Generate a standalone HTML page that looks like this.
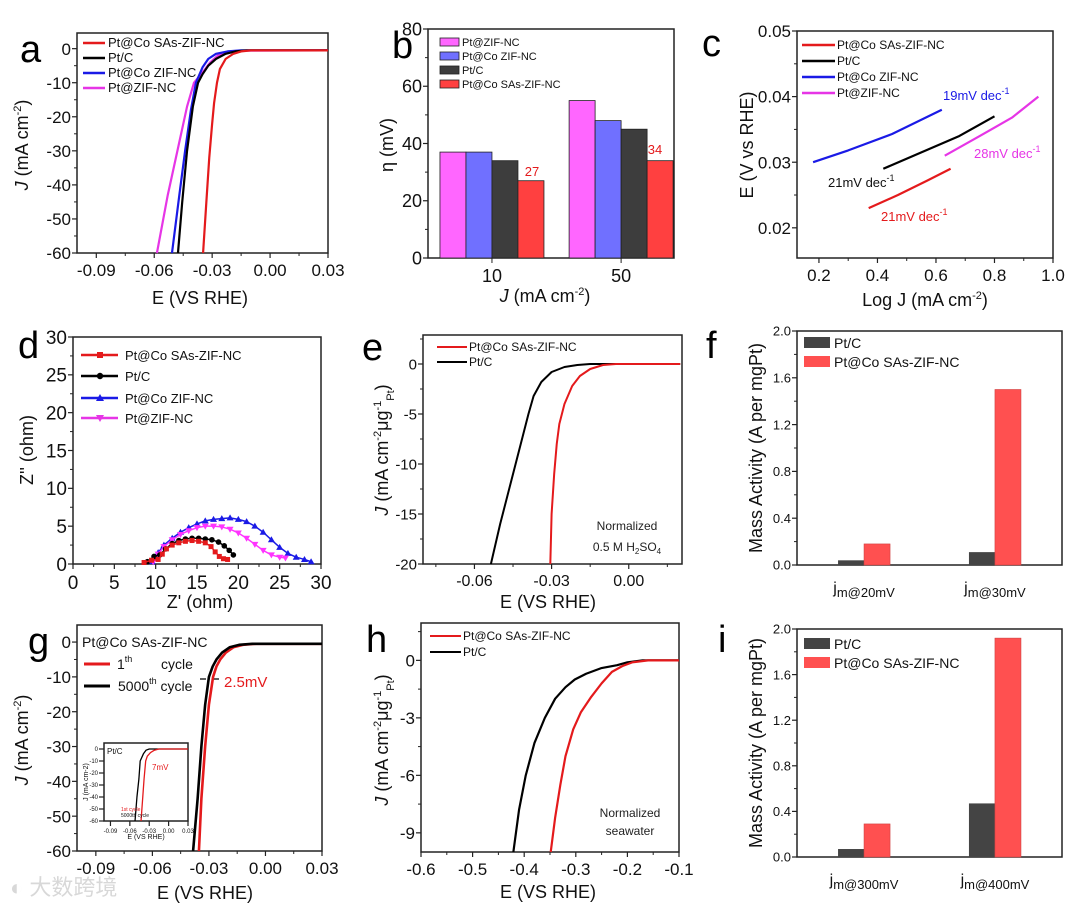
<!DOCTYPE html>
<html><head><meta charset="utf-8">
<style>
html,body{margin:0;padding:0;background:#fff;}
svg{display:block;font-family:"Liberation Sans","Noto Sans CJK SC",sans-serif;}
.lg{font-size:13px;fill:#111}
.tl{font-size:18px;fill:#111}
.pl{font-size:38px;fill:#000}
</style></head>
<body>
<svg id="fig" width="1080" height="910" viewBox="0 0 1080 910">
<rect width="1080" height="910" fill="#fff"/>
<text class="pl" x="20" y="62">a</text>
<text class="pl" x="392" y="58">b</text>
<text class="pl" x="702" y="56">c</text>
<text class="pl" x="18" y="358">d</text>
<text class="pl" x="362" y="360">e</text>
<text class="pl" x="706" y="358">f</text>
<text class="pl" x="28" y="654">g</text>
<text class="pl" x="366" y="652">h</text>
<text class="pl" x="718" y="652">i</text>

<text class="tl" x="200" y="304" text-anchor="middle">E (VS RHE)</text>
<text class="tl" transform="translate(28,145) rotate(-90)" text-anchor="middle"><tspan font-style="italic">J</tspan> (mA cm<tspan font-size="11" dy="-7">-2</tspan><tspan dy="7">)</tspan></text>
<text class="tl" x="545" y="302" text-anchor="middle"><tspan font-style="italic">J</tspan> (mA cm<tspan font-size="11" dy="-7">-2</tspan><tspan dy="7">)</tspan></text>
<text class="tl" transform="translate(393,145) rotate(-90)" text-anchor="middle">η (mV)</text>
<text class="tl" x="925" y="306" text-anchor="middle">Log J (mA cm<tspan font-size="11" dy="-7">-2</tspan><tspan dy="7">)</tspan></text>
<text class="tl" transform="translate(753,145) rotate(-90)" text-anchor="middle">E (V vs RHE)</text>
<text class="tl" x="200" y="608" text-anchor="middle">Z' (ohm)</text>
<text class="tl" transform="translate(33,450) rotate(-90)" text-anchor="middle">Z'' (ohm)</text>
<text class="tl" x="548" y="608" text-anchor="middle">E (VS RHE)</text>
<text class="tl" transform="translate(388,450) rotate(-90)" text-anchor="middle"><tspan font-style="italic">J</tspan> (mA cm<tspan font-size="11" dy="-7">-2</tspan><tspan dy="7">μg</tspan><tspan font-size="11" dy="-7">-1</tspan><tspan font-size="11" dy="13">Pt</tspan><tspan dy="-6">)</tspan></text>
<text class="tl" transform="translate(762,448) rotate(-90)" text-anchor="middle">Mass Activity (A per mgPt)</text>
<text class="tl" x="205" y="899" text-anchor="middle">E (VS RHE)</text>
<text class="tl" transform="translate(28,740) rotate(-90)" text-anchor="middle"><tspan font-style="italic">J</tspan> (mA cm<tspan font-size="11" dy="-7">-2</tspan><tspan dy="7">)</tspan></text>
<text class="tl" x="548" y="898" text-anchor="middle">E (VS RHE)</text>
<text class="tl" transform="translate(388,740) rotate(-90)" text-anchor="middle"><tspan font-style="italic">J</tspan> (mA cm<tspan font-size="11" dy="-7">-2</tspan><tspan dy="7">μg</tspan><tspan font-size="11" dy="-7">-1</tspan><tspan font-size="11" dy="13">Pt</tspan><tspan dy="-6">)</tspan></text>
<text class="tl" transform="translate(762,743) rotate(-90)" text-anchor="middle">Mass Activity (A per mgPt)</text>

<g>
<line x1="83" y1="43" x2="105" y2="43" stroke="#e41a1c" stroke-width="2.5"/><text class="lg" x="108" y="47">Pt@Co SAs-ZIF-NC</text>
<line x1="83" y1="58" x2="105" y2="58" stroke="#000" stroke-width="2.5"/><text class="lg" x="108" y="62">Pt/C</text>
<line x1="83" y1="73" x2="105" y2="73" stroke="#1a1ae6" stroke-width="2.5"/><text class="lg" x="108" y="77">Pt@Co ZIF-NC</text>
<line x1="83" y1="88" x2="105" y2="88" stroke="#e635e6" stroke-width="2.5"/><text class="lg" x="108" y="92">Pt@ZIF-NC</text>
</g>
<g font-size="11">
<rect x="440" y="38" width="19" height="8" fill="#ff66ff" stroke="#222" stroke-width="0.8"/><text x="462" y="46" fill="#111">Pt@ZIF-NC</text>
<rect x="440" y="52" width="19" height="8" fill="#7070ff" stroke="#222" stroke-width="0.8"/><text x="462" y="60" fill="#111">Pt@Co ZIF-NC</text>
<rect x="440" y="66" width="19" height="8" fill="#3d3d3d" stroke="#222" stroke-width="0.8"/><text x="462" y="74" fill="#111">Pt/C</text>
<rect x="440" y="80" width="19" height="8" fill="#ff4040" stroke="#222" stroke-width="0.8"/><text x="462" y="88" fill="#111">Pt@Co SAs-ZIF-NC</text>
</g>
<text x="532" y="176" font-size="13" fill="#e41a1c" text-anchor="middle">27</text>
<text x="655" y="154" font-size="13" fill="#e41a1c" text-anchor="middle">34</text>
<g font-size="12">
<line x1="802" y1="45" x2="835" y2="45" stroke="#e41a1c" stroke-width="2.5"/><text x="837" y="49" fill="#111">Pt@Co SAs-ZIF-NC</text>
<line x1="802" y1="61" x2="835" y2="61" stroke="#000" stroke-width="2.5"/><text x="837" y="65" fill="#111">Pt/C</text>
<line x1="802" y1="77" x2="835" y2="77" stroke="#1a1ae6" stroke-width="2.5"/><text x="837" y="81" fill="#111">Pt@Co ZIF-NC</text>
<line x1="802" y1="93" x2="835" y2="93" stroke="#e635e6" stroke-width="2.5"/><text x="837" y="97" fill="#111">Pt@ZIF-NC</text>
</g>
<g font-size="13">
<text x="943" y="100" fill="#1a1ae6">19mV dec<tspan font-size="9" dy="-6">-1</tspan></text>
<text x="828" y="187" fill="#111">21mV dec<tspan font-size="9" dy="-6">-1</tspan></text>
<text x="974" y="158" fill="#e635e6">28mV dec<tspan font-size="9" dy="-6">-1</tspan></text>
<text x="881" y="221" fill="#e41a1c">21mV dec<tspan font-size="9" dy="-6">-1</tspan></text>
</g>
<g>
<line x1="81" y1="355" x2="118" y2="355" stroke="#e41a1c" stroke-width="2.5"/><rect x="97" y="352" width="6" height="6" fill="#e41a1c"/><text class="lg" x="125" y="360">Pt@Co SAs-ZIF-NC</text>
<line x1="81" y1="376" x2="118" y2="376" stroke="#000" stroke-width="2.5"/><circle cx="100" cy="376" r="3.2" fill="#000"/><text class="lg" x="125" y="381">Pt/C</text>
<line x1="81" y1="398" x2="118" y2="398" stroke="#1a1ae6" stroke-width="2.5"/><path d="M100 394 L104 401 L96 401Z" fill="#1a1ae6"/><text class="lg" x="125" y="403">Pt@Co ZIF-NC</text>
<line x1="81" y1="418" x2="118" y2="418" stroke="#e635e6" stroke-width="2.5"/><path d="M96 415 L104 415 L100 422Z" fill="#e635e6"/><text class="lg" x="125" y="423">Pt@ZIF-NC</text>
</g>
<g font-size="12">
<line x1="437" y1="347" x2="467" y2="347" stroke="#e41a1c" stroke-width="2"/><text x="469" y="351" fill="#111">Pt@Co SAs-ZIF-NC</text>
<line x1="437" y1="362" x2="467" y2="362" stroke="#000" stroke-width="2"/><text x="469" y="366" fill="#111">Pt/C</text>
</g>
<text x="627" y="530" font-size="12" fill="#222" text-anchor="middle">Normalized</text>
<text x="627" y="551" font-size="12" fill="#222" text-anchor="middle">0.5 M H<tspan font-size="8" dy="3">2</tspan><tspan dy="-3">SO</tspan><tspan font-size="8" dy="3">4</tspan></text>
<g font-size="14">
<rect x="804" y="337" width="26" height="11" fill="#444"/><text x="834" y="348" fill="#111">Pt/C</text>
<rect x="804" y="356" width="26" height="11" fill="#ff5050"/><text x="834" y="367" fill="#111">Pt@Co SAs-ZIF-NC</text>
</g>
<g>
<text x="82" y="647" font-size="14" fill="#111">Pt@Co SAs-ZIF-NC</text>
<line x1="84" y1="664" x2="110" y2="664" stroke="#e41a1c" stroke-width="3"/>
<text x="117" y="669" font-size="14" fill="#111">1<tspan font-size="9" dy="-7">th</tspan></text>
<text x="161" y="669" font-size="14" fill="#111">cycle</text>
<line x1="84" y1="686" x2="110" y2="686" stroke="#000" stroke-width="3"/>
<text x="118" y="691" font-size="14" fill="#111">5000<tspan font-size="9" dy="-7">th</tspan><tspan dy="7"> cycle</tspan></text>
<text x="224" y="687" font-size="15" fill="#e41a1c">2.5mV</text>
<path d="M200 679 L206 679 M213 679 L219 679" stroke="#000" stroke-width="1.2"/>
</g>
<g font-size="12">
<line x1="430" y1="636" x2="461" y2="636" stroke="#e41a1c" stroke-width="2"/><text x="463" y="640" fill="#111">Pt@Co SAs-ZIF-NC</text>
<line x1="430" y1="652" x2="461" y2="652" stroke="#000" stroke-width="2"/><text x="463" y="656" fill="#111">Pt/C</text>
</g>
<text x="630" y="817" font-size="12" fill="#222" text-anchor="middle">Normalized</text>
<text x="630" y="835" font-size="12" fill="#222" text-anchor="middle">seawater</text>
<g font-size="14">
<rect x="804" y="638" width="26" height="11" fill="#444"/><text x="834" y="649" fill="#111">Pt/C</text>
<rect x="804" y="657" width="26" height="11" fill="#ff5050"/><text x="834" y="668" fill="#111">Pt@Co SAs-ZIF-NC</text>
</g>
<text x="10" y="895" font-size="22" fill="#d8d8d8">◐ 大数跨境</text>
<g id="marks"></g>
</svg>
<script>
const aRed=[[0.03,-0.5],[-0.010,-0.5],[-0.015,-0.8],[-0.019,-1.5],[-0.023,-3],[-0.026,-6],[-0.0275,-10],[-0.029,-16],[-0.030,-22],[-0.0315,-32],[-0.033,-45],[-0.0347,-60]];
const aBlack=[[0.03,-0.5],[-0.012,-0.5],[-0.018,-0.8],[-0.023,-1.5],[-0.028,-3],[-0.032,-5],[-0.035,-7.5],[-0.0373,-10],[-0.040,-17],[-0.043,-30],[-0.0455,-45],[-0.0477,-60]];
const aBlue=[[0.03,-0.5],[-0.015,-0.5],[-0.022,-0.8],[-0.028,-1.5],[-0.032,-3],[-0.035,-5.5],[-0.0384,-10],[-0.041,-18],[-0.044,-30],[-0.047,-43],[-0.0508,-60]];
const aMagenta=[[0.03,-0.5],[-0.015,-0.6],[-0.022,-1],[-0.027,-2],[-0.031,-4],[-0.035,-7],[-0.0394,-10],[-0.043,-17],[-0.048,-30],[-0.053,-43],[-0.0586,-60]];
const bCategories=["10","50"];
const bPtZIF=[37,55];
const bPtCoZIF=[37,48];
const bPtC=[34,45];
const bPtCoSAs=[27,34];
const cBlue=[[0.18,0.030],[0.30,0.0318],[0.45,0.0343],[0.62,0.038]];
const cBlack=[[0.42,0.029],[0.55,0.0315],[0.68,0.0340],[0.80,0.037]];
const cMagenta=[[0.63,0.031],[0.75,0.0340],[0.86,0.0368],[0.95,0.040]];
const cRed=[[0.37,0.023],[0.47,0.0250],[0.57,0.0272],[0.65,0.029]];
const dRed=[[8.6,0.2],[9.5,0.5],[10.3,0.6],[10.8,1.3],[11.3,2.0],[12,2.5],[12.8,2.8],[13.6,3.0],[14.4,3.1],[15.2,3.0],[16,2.8],[16.7,2.3],[17.2,1.6],[17.7,1.0],[18.2,0.7],[18.7,0.6]];
const dBlack=[[9.0,0.3],[9.8,1.0],[10.5,1.2],[11.2,2.0],[12,2.7],[12.8,3.1],[13.6,3.3],[14.4,3.4],[15.2,3.4],[16,3.3],[16.8,3.2],[17.6,2.9],[18.3,2.4],[18.9,1.8],[19.4,1.2]];
const dBlue=[[9.6,0.3],[10.3,1.5],[11,2.5],[12,3.4],[13,4.2],[14,4.8],[15,5.3],[16,5.7],[17,5.9],[18,6.0],[19,6.1],[20,5.9],[21,5.6],[22,5.0],[23,4.2],[24,3.2],[25,2.2],[26,1.4],[27,0.9],[28,0.6],[28.8,0.3]];
const dMagenta=[[9.7,0.3],[10.3,1.3],[11,2.3],[12,3.2],[13,3.9],[14,4.4],[15,4.8],[16,5.0],[17,5.0],[18,4.9],[19,4.6],[20,4.1],[21,3.4],[22,2.6],[23,1.8],[24,1.2],[25,0.9],[25.7,0.8]];
const eRed=[[0.02,0],[-0.005,0],[-0.010,-0.1],[-0.015,-0.5],[-0.019,-1.2],[-0.022,-2.2],[-0.025,-4],[-0.027,-6],[-0.028,-8],[-0.029,-11],[-0.030,-15],[-0.0305,-20]];
const eBlack=[[0.02,0],[-0.015,0],[-0.020,-0.1],[-0.025,-0.3],[-0.030,-0.8],[-0.034,-1.8],[-0.037,-3.2],[-0.039,-5],[-0.042,-8],[-0.046,-12],[-0.050,-16],[-0.0536,-20]];
const fCategories=["20mV","30mV"];
const fPtC=[0.04,0.11];
const fPtCoSAs=[0.18,1.50];
const gRed=[[0.03,-0.5],[-0.005,-0.5],[-0.012,-0.8],[-0.017,-1.5],[-0.021,-3],[-0.024,-5],[-0.026,-7],[-0.0278,-10],[-0.030,-18],[-0.032,-30],[-0.034,-45],[-0.0353,-60]];
const gBlack=[[0.03,-0.5],[-0.007,-0.5],[-0.014,-0.8],[-0.019,-1.5],[-0.023,-3],[-0.026,-5],[-0.028,-7],[-0.030,-10],[-0.032,-18],[-0.034,-30],[-0.036,-45],[-0.0384,-60]];
const gInsetRed=[[0.03,0],[-0.015,0],[-0.022,-1],[-0.028,-3],[-0.033,-6],[-0.0355,-10],[-0.038,-25],[-0.040,-40],[-0.0427,-60]];
const gInsetBlack=[[0.03,0],[-0.030,0],[-0.035,-1],[-0.039,-4],[-0.044,-10],[-0.046,-25],[-0.049,-40],[-0.052,-60]];
const hRed=[[-0.1,0],[-0.16,0],[-0.19,-0.1],[-0.21,-0.3],[-0.23,-0.6],[-0.25,-1.2],[-0.27,-1.9],[-0.29,-2.7],[-0.305,-3.6],[-0.32,-5],[-0.33,-6.5],[-0.34,-8.2],[-0.3486,-10]];
const hBlack=[[-0.1,0],[-0.17,0],[-0.2,-0.1],[-0.22,-0.25],[-0.25,-0.4],[-0.28,-0.7],[-0.302,-1],[-0.32,-1.4],[-0.34,-2],[-0.36,-3],[-0.38,-4.3],[-0.397,-6],[-0.41,-7.8],[-0.421,-10]];
const iCategories=["300mV","400mV"];
const iPtC=[0.07,0.47];
const iPtCoSAs=[0.29,1.92];

const NS="http://www.w3.org/2000/svg";
const root=document.getElementById('marks');
function mk(tag,attrs,name,parent){
  const e=document.createElementNS(NS,tag);
  for(const k in attrs) e.setAttribute(k,attrs[k]);
  
  
  (parent||root).appendChild(e);
  return e;
}
function axes(p){
  const sx=v=>p.x0+(v-p.xmin)/(p.xmax-p.xmin)*(p.x1-p.x0);
  const sy=v=>p.y1-(v-p.ymin)/(p.ymax-p.ymin)*(p.y1-p.y0);
  return {sx,sy};
}
function frame(p,ax,name){
  const g=mk('g',{},name+'-axes');
  mk('rect',{x:p.x0,y:p.y0,width:p.x1-p.x0,height:p.y1-p.y0,fill:'none',stroke:'#222','stroke-width':1.5},name+'-frame',g);
  const fs=p.fs||17, fsx=p.fsx||fs;
  if(p.xt){
    p.xt.forEach(v=>{
      const x=ax.sx(v);
      mk('line',{x1:x,y1:p.y1,x2:x,y2:p.y1+5,stroke:'#222','stroke-width':1.2},name+'-x-tick',g);
      const t=mk('text',{x:x,y:p.y1+fsx+6,'font-size':fsx,'text-anchor':'middle',fill:'#111'},name+'-x-tick-label',g);
      t.textContent=p.xfmt(v);
    });
    (p.xm||[]).forEach(v=>{const x=ax.sx(v);
      mk('line',{x1:x,y1:p.y1,x2:x,y2:p.y1+3,stroke:'#222','stroke-width':1},name+'-x-minor-tick',g);});
  }
  p.yt.forEach(v=>{
    const y=ax.sy(v);
    mk('line',{x1:p.x0-5,y1:y,x2:p.x0,y2:y,stroke:'#222','stroke-width':1.2},name+'-y-tick',g);
    const t=mk('text',{x:p.x0-6,y:y+fs*0.36,'font-size':fs,'text-anchor':'end',fill:'#111'},name+'-y-tick-label',g);
    t.textContent=p.yfmt(v);
  });
  (p.ym||[]).forEach(v=>{const y=ax.sy(v);
    mk('line',{x1:p.x0-3,y1:y,x2:p.x0,y2:y,stroke:'#222','stroke-width':1},name+'-y-minor-tick',g);});
}
function line(ax,data,color,name,w){
  const d=data.map((pt,i)=>(i?'L':'M')+ax.sx(pt[0]).toFixed(2)+' '+ax.sy(pt[1]).toFixed(2)).join(' ');
  mk('path',{d:d,fill:'none',stroke:color,'stroke-width':w||2,'stroke-linejoin':'round'},name);
}
const rng=(a,b,s)=>{const r=[];for(let v=a;v<=b+1e-9;v+=s)r.push(+v.toFixed(6));return r;};
const f2=v=>v.toFixed(2), f0=v=>String(Math.round(v)), f1=v=>v.toFixed(1);

const pa={x0:77,x1:328,y0:33,y1:253,xmin:-0.10,xmax:0.03,ymin:-60,ymax:4.6,xt:rng(-0.09,0.03,0.03),xm:rng(-0.075,0.03,0.03),yt:rng(-60,0,10),ym:rng(-55,0,10),xfmt:f2,yfmt:f0};
const axA=axes(pa); frame(pa,axA,'a');
line(axA,aMagenta,'#e635e6','a-line-pt-zif-nc',2.2);
line(axA,aBlue,'#1a1ae6','a-line-pt-co-zif-nc',2.2);
line(axA,aBlack,'#000','a-line-pt-c',2.2);
line(axA,aRed,'#e41a1c','a-line-pt-co-sas',2.2);

const pb={x0:428,x1:674,y0:29,y1:258,xmin:0,xmax:1,ymin:0,ymax:80,yt:rng(0,80,20),ym:rng(10,70,20),yfmt:f0,fs:18};
const axB=axes(pb); frame(pb,axB,'b');
const bSeries=[[bPtZIF,'#ff66ff','pt-zif-nc'],[bPtCoZIF,'#7070ff','pt-co-zif-nc'],[bPtC,'#3d3d3d','pt-c'],[bPtCoSAs,'#ff4040','pt-co-sas']];
const bCenters=[0.26,0.785], bw=26;
bCategories.forEach((c,ci)=>{
  const cx=pb.x0+(pb.x1-pb.x0)*bCenters[ci];
  mk('line',{x1:cx,y1:pb.y1,x2:cx,y2:pb.y1+5,stroke:'#222'},'b-x-tick');
  const t=mk('text',{x:cx,y:pb.y1+24,'font-size':18,'text-anchor':'middle',fill:'#111'},'b-x-tick-label');
  t.textContent=c;
  bSeries.forEach((s,si)=>{
    const x=cx-2*bw+si*bw, y=axB.sy(s[0][ci]);
    mk('rect',{x:x,y:y,width:bw,height:pb.y1-y,fill:s[1],stroke:'#222','stroke-width':0.8},'b-bar-'+s[2]+'-'+c);
  });
});

const pc={x0:797,x1:1053,y0:31,y1:258,xmin:0.125,xmax:1.0,ymin:0.0154,ymax:0.05,xt:rng(0.2,1.0,0.2),xm:rng(0.3,0.9,0.2),yt:[0.02,0.03,0.04,0.05],ym:[0.025,0.035,0.045],xfmt:f1,yfmt:f2};
const axC=axes(pc); frame(pc,axC,'c');
line(axC,cBlue,'#1a1ae6','c-tafel-pt-co-zif-nc',2.2);
line(axC,cBlack,'#000','c-tafel-pt-c',2.2);
line(axC,cMagenta,'#e635e6','c-tafel-pt-zif-nc',2.2);
line(axC,cRed,'#e41a1c','c-tafel-pt-co-sas',2.2);

const pd={x0:73,x1:321,y0:337,y1:564,xmin:0,xmax:30,ymin:0,ymax:30,xt:rng(0,30,5),xm:rng(2.5,27.5,5),yt:rng(0,30,5),ym:rng(2.5,27.5,5),xfmt:f0,yfmt:f0,fs:19};
const axD=axes(pd); frame(pd,axD,'d');
function scatter(ax,data,color,shape,name){
  line(ax,data,color,name+'-line',1.5);
  data.forEach(pt=>{
    const x=ax.sx(pt[0]), y=ax.sy(pt[1]);
    if(shape==='sq') mk('rect',{x:x-2.5,y:y-2.5,width:5,height:5,fill:color},name+'-point');
    else if(shape==='c') mk('circle',{cx:x,cy:y,r:2.8,fill:color},name+'-point');
    else if(shape==='up') mk('path',{d:`M${x} ${y-3.5}L${x+3.5} ${y+2.5}L${x-3.5} ${y+2.5}Z`,fill:color},name+'-point');
    else mk('path',{d:`M${x-3.5} ${y-2.5}L${x+3.5} ${y-2.5}L${x} ${y+3.5}Z`,fill:color},name+'-point');
  });
}
scatter(axD,dBlue,'#1a1ae6','up','d-nyquist-pt-co-zif-nc');
scatter(axD,dMagenta,'#ff33ff','dn','d-nyquist-pt-zif-nc');
scatter(axD,dBlack,'#000','c','d-nyquist-pt-c');
scatter(axD,dRed,'#e41a1c','sq','d-nyquist-pt-co-sas');

const pe={x0:423,x1:682,y0:335,y1:564,xmin:-0.08,xmax:0.0207,ymin:-20,ymax:2.9,xt:[-0.06,-0.03,0.0],xm:[-0.075,-0.045,-0.015,0.015],yt:rng(-20,0,5),ym:[-17.5,-12.5,-7.5,-2.5,2.5],xfmt:f2,yfmt:f0,fs:15,fsx:16};
const axE=axes(pe); frame(pe,axE,'e');
line(axE,eBlack,'#000','e-line-pt-c',2);
line(axE,eRed,'#e41a1c','e-line-pt-co-sas',2);

function massBars(p,cats,s1,s2,name){
  const ax=axes(p); frame(p,ax,name);
  const centers=[0.253,0.747], w=26;
  cats.forEach((c,ci)=>{
    const cx=p.x0+(p.x1-p.x0)*centers[ci];
    const y1=ax.sy(s1[ci]), y2=ax.sy(s2[ci]);
    mk('rect',{x:cx-w,y:y1,width:w,height:p.y1-y1,fill:'#444'},name+'-bar-pt-c-'+c);
    mk('rect',{x:cx,y:y2,width:w,height:p.y1-y2,fill:'#ff5050',stroke:'#d04040','stroke-width':0.6},name+'-bar-pt-co-sas-'+c);
    const t=mk('text',{x:cx,y:p.y1+p.lab,'font-size':16,'text-anchor':'middle',fill:'#111'},name+'-x-tick-label');
    t.textContent='j';
    const ts=document.createElementNS(NS,'tspan');
    ts.setAttribute('font-size','13'); ts.setAttribute('dy','4');
    ts.textContent='m@'+c;
    t.appendChild(ts);
  });
}
const pf={x0:797,x1:1062,y0:331,y1:565,xmin:0,xmax:1,ymin:0,ymax:2.0,yt:rng(0,2,0.4),ym:rng(0.2,1.8,0.4),yfmt:f1,fs:13,lab:28};
massBars(pf,fCategories,fPtC,fPtCoSAs,'f');

const pg={x0:77,x1:322,y0:625,y1:851,xmin:-0.10,xmax:0.03,ymin:-60,ymax:4.9,xt:rng(-0.09,0.03,0.03),xm:rng(-0.075,0.03,0.03),yt:rng(-60,0,10),ym:rng(-55,0,10),xfmt:f2,yfmt:f0};
const axG=axes(pg); frame(pg,axG,'g');
line(axG,gRed,'#e41a1c','g-line-1st-cycle',2.6);
line(axG,gBlack,'#000','g-line-5000th-cycle',2.6);
const pgi={x0:104,x1:188,y0:743,y1:821,xmin:-0.10,xmax:0.03,ymin:-60,ymax:5,xt:rng(-0.09,0.03,0.03),yt:rng(-60,0,10),xfmt:f2,yfmt:f0,fs:6,fsx:6};
const axGI=axes(pgi);
mk('rect',{x:pgi.x0,y:pgi.y0,width:84,height:78,fill:'#fff'},'g-inset-bg');
frame(pgi,axGI,'g-inset');
line(axGI,gInsetBlack,'#000','g-inset-line-5000th',1.3);
line(axGI,gInsetRed,'#e41a1c','g-inset-line-1st',1.3);

const ph={x0:421,x1:679,y0:623,y1:852,xmin:-0.6,xmax:-0.1,ymin:-10,ymax:1.95,xt:rng(-0.6,-0.1,0.1),xm:rng(-0.55,-0.15,0.1),yt:[-9,-6,-3,0],ym:[-7.5,-4.5,-1.5,1.5],xfmt:f1,yfmt:f0};
const axH=axes(ph); frame(ph,axH,'h');
line(axH,hBlack,'#000','h-line-pt-c',2.2);
line(axH,hRed,'#e41a1c','h-line-pt-co-sas',2.2);
const pi={x0:797,x1:1062,y0:629,y1:857,xmin:0,xmax:1,ymin:0,ymax:2.0,yt:rng(0,2,0.4),ym:rng(0.2,1.8,0.4),yfmt:f1,fs:13,lab:28};
massBars(pi,iCategories,iPtC,iPtCoSAs,'i');

(function(){
const fig=document.getElementById('fig');
function tx(x,y,s,str,col,name,anchor,rot){
  const t=document.createElementNS(NS,'text');
  t.setAttribute('x',x);t.setAttribute('y',y);t.setAttribute('font-size',s);t.setAttribute('fill',col||'#111');
  if(anchor)t.setAttribute('text-anchor',anchor);
  if(rot)t.setAttribute('transform',rot);
  
  
  t.textContent=str;fig.appendChild(t);
}
tx(107,754,8,'Pt/C','#111','g-inset-title');
tx(152,770,8,'7mV','#e41a1c','g-inset-annotation');
tx(146,839,7,'E (VS RHE)','#111','g-inset-x-title','middle');
tx(121,811,5,'1st     cycle','#e41a1c','g-inset-legend-1st');
tx(121,817,5,'5000th cycle','#111','g-inset-legend-5000th');
tx(88,782,7,'J (mA cm-2)','#111','g-inset-y-title','middle','rotate(-90 88 782)');
})();
</script>
</body></html>
